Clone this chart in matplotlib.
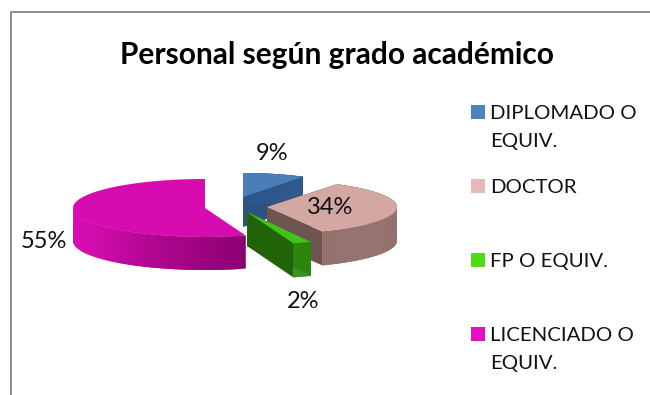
import numpy as np
import matplotlib
matplotlib.use("Agg")
import matplotlib.pyplot as plt
from matplotlib.patches import Polygon, Rectangle

plt.rcParams["font.family"] = ["Lato", "DejaVu Sans"]

TITLE = "Personal según grado académico"
CATEGORIES = ["DIPLOMADO O\nEQUIV.", "DOCTOR", "FP O EQUIV.", "LICENCIADO O\nEQUIV."]
VALUES = [9, 34, 2, 55]
LABELS = ["9%", "34%", "2%", "55%"]
COLORS = ["#4f81bd", "#e6b8b7", "#4fdc14", "#e60fc0"]
TOPS = ["#4a7eb8", "#d3a8a3", "#3fc41a", "#d60cb0"]
SIDE_DARK = ["#2c5183", "#6f5552", "#216408", "#8a0070"]
SIDE_LIGHT = ["#36659e", "#96736f", "#2f8a10", "#d40db0"]

# centre x, centre y, rx, ry, depth for each exploded slice
GEOM = [(243, 197, 112, 24, 30), (267, 207, 130, 27, 34),
        (247, 212, 150, 33, 34), (205, 208, 132, 29, 33)]
LABEL_POS = [(272, 153), (330, 207), (303, 302), (44, 242)]
LEG_Y = [112, 186, 260, 334]


def rim(cx, cy, rx, ry, a0, a1, n=80):
    t = np.radians(np.linspace(a0, a1, n))
    return cx + rx * np.sin(t), cy - ry * np.cos(t)


def mix(c1, c2, f):
    a, b = np.array(matplotlib.colors.to_rgb(c1)), np.array(matplotlib.colors.to_rgb(c2))
    return a + (b - a) * np.clip(f, 0, 1)


def draw_slice(ax, i, a0, a1):
    cx, cy, rx, ry, d = GEOM[i]
    x, y = rim(cx, cy, rx, ry, a0, a1)

    # cut faces first, they sit behind the outer wall (the big slice shows none)
    if i != 3:
        for xe, ye in ((x[0], y[0]), (x[-1], y[-1])):
            ax.add_patch(Polygon([(cx, cy), (xe, ye), (xe, ye + d), (cx, cy + d)],
                                 fc=SIDE_DARK[i], ec="none", zorder=i + 1))

    # outer wall in overlapping strips for the shading, right to left on the big slice
    for k in range(len(x) - 1):
        ang = a0 + (a1 - a0) * k / (len(x) - 1)
        if i == 3 and ang > 270:
            continue
        if i == 3:
            f = (ang - 162) / 75
        elif i == 2:
            f = 1
        else:
            f = 0.5 + 0.5 * np.cos(np.radians(ang - 130))
        c = mix(SIDE_DARK[i], SIDE_LIGHT[i], f)
        k2 = min(k + 2, len(x) - 1)
        ax.add_patch(Polygon([(x[k], y[k]), (x[k2], y[k2]), (x[k2], y[k2] + d), (x[k], y[k] + d)],
                             fc=c, ec="none", zorder=i + 1))

    top = np.column_stack([np.r_[cx, x], np.r_[cy, y]])
    ax.add_patch(Polygon(top, fc=TOPS[i], ec="none", zorder=i + 1.5))


fig = plt.figure(figsize=(6.5, 3.95), dpi=100)
ax = fig.add_axes([0, 0, 1, 1])
ax.set_xlim(0, 650)
ax.set_ylim(395, 0)
ax.axis("off")

# chart frame, cropped on the right and bottom
ax.plot([10.5, 10.5, 650], [395, 12, 12], color="#8c8c8c", lw=1.4)

ax.text(337, 55, TITLE, ha="center", va="center", fontsize=21.5, fontweight="bold", color="#000000")

edges = np.r_[0, np.cumsum(VALUES)] / np.sum(VALUES) * 360
for i in range(len(VALUES)):
    draw_slice(ax, i, edges[i], edges[i + 1])

for (lx, ly), s in zip(LABEL_POS, LABELS):
    ax.text(lx, ly, s, ha="center", va="center", fontsize=17, color="#111111", zorder=10)

for y0, name, col in zip(LEG_Y, CATEGORIES, COLORS):
    ax.add_patch(Rectangle((471, y0 - 7), 14, 14, fc=col, ec="none"))
    ax.text(490, y0 - 7, name, ha="left", va="top", fontsize=14.7, color="#111111", linespacing=1.75)

fig.savefig("out.png", dpi=100)
